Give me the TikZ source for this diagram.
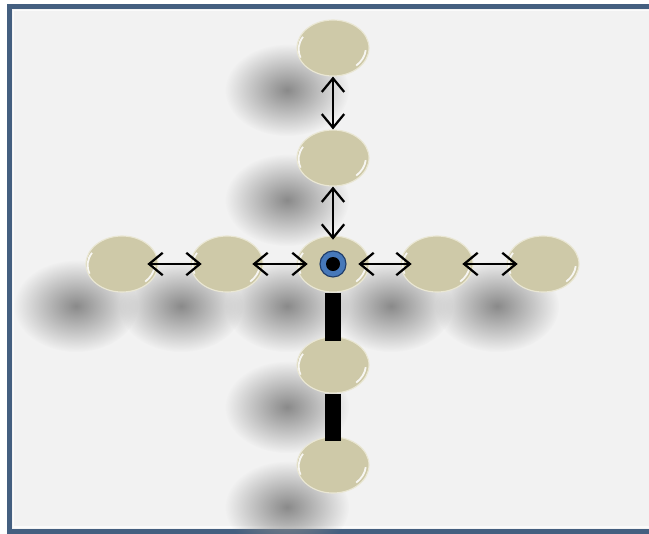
\documentclass[tikz,border=0pt]{standalone}
\usepackage{tikz}
\usetikzlibrary{arrows.meta,shapes.geometric,fadings}

\definecolor{framecol}{RGB}{68,95,128}
\definecolor{paper}{RGB}{242,242,242}
\definecolor{bead}{RGB}{206,201,168}
\definecolor{beadrim}{RGB}{234,231,212}
\definecolor{eyeblue}{RGB}{70,120,185}
\definecolor{eyering}{RGB}{30,60,105}

\tikzfading[name=softshadow, inner color=transparent!0, outer color=transparent!100]

\begin{document}
\begin{tikzpicture}[
  x=0.025cm, y=-0.025cm, >={Straight Barb[length=3.4mm, width=5.6mm]},
  bead/.style={ellipse, draw=beadrim, line width=0.8pt, fill=bead,
               minimum width=1.8cm, minimum height=1.4cm, inner sep=0pt,
               path picture={
                 \draw[white, line width=1.3pt, opacity=.85]
                   ([shift={(-0.75cm,0.28cm)}]path picture bounding box.center)
                   arc[start angle=150, end angle=200, x radius=0.82cm, y radius=0.62cm];
                 \draw[white, line width=1.3pt, opacity=.85]
                   ([shift={(0.58cm,-0.44cm)}]path picture bounding box.center)
                   arc[start angle=-45, end angle=-5, x radius=0.82cm, y radius=0.62cm];
               }},
  dropshadow/.style={fill=black!46, path fading=softshadow},
  link/.style={<->, line width=1.6pt},
  bar/.style={line width=0.4cm, line cap=butt}
]
  \useasboundingbox (0,0) rectangle (649,533);
  \clip (0,0) rectangle (649,533);

  % frame
  \draw[framecol, line width=1.25mm, fill=paper] (9.5,6.5) rectangle (655,531);
  \draw[white, opacity=.7, line width=1pt] (13.5,10.5) rectangle (651,527);

  % shadows first, so that no bead is covered
  \foreach \x/\y in {333/48, 333/158, 333/264, 333/365, 333/465,
                     122/264, 227/264, 437/264, 543/264}
    \path[dropshadow] (\x-46,\y+42) ellipse [x radius=1.55cm, y radius=1.15cm];

  % beads
  \foreach \n/\x/\y in {top/333/48, up/333/158, mid/333/264,
                        down/333/365, low/333/465,
                        far left/122/264, left/227/264,
                        right/437/264, far right/543/264}
    \node[bead] (\n) at (\x,\y) {};

  % eye in the middle bead
  \node[circle, fill=eyeblue, draw=eyering, line width=0.8pt,
        minimum size=0.65cm, inner sep=0pt] (eye) at (mid) {};
  \node[circle, fill=black, minimum size=0.35cm, inner sep=0pt] (pupil) at (eye) {};

  % links
  \draw[link] (top) -- (up);
  \draw[link, shorten >=-3pt] (up) -- (mid);
  \draw[link, shorten <=-8pt, shorten >=-8pt] (far left) -- (left);
  \draw[link, shorten <=-8pt, shorten >=-8pt] (left) -- (mid);
  \draw[link, shorten <=-8pt, shorten >=-8pt] (mid) -- (right);
  \draw[link, shorten <=-8pt, shorten >=-8pt] (right) -- (far right);

  % rigid bars below
  \draw[bar, shorten >=-3.5pt] (mid.south) -- (down.north);
  \draw[bar, shorten >=-3.5pt] (down.south) -- (low.north);
\end{tikzpicture}
\end{document}
